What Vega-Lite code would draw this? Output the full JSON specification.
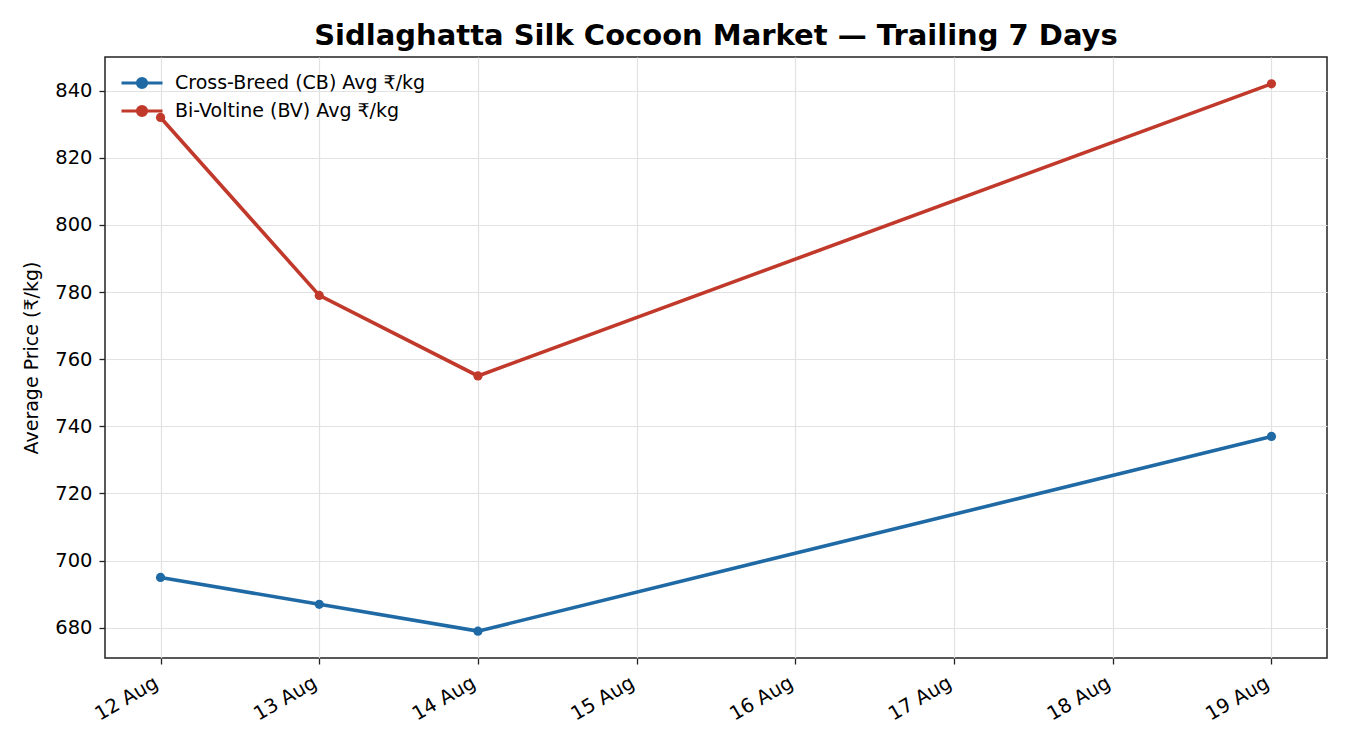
{
  "$schema": "https://vega.github.io/schema/vega-lite/v6.json",
  "width": 1222,
  "height": 601,
  "autosize": "none",
  "padding": {"left": 105, "top": 57, "right": 23, "bottom": 92},
  "background": "white",
  "title": {"text": "Sidlaghatta Silk Cocoon Market — Trailing 7 Days", "font": "DejaVu Sans", "fontSize": 29, "fontWeight": "bold", "color": "#000", "anchor": "middle", "offset": 6},
  "config": {
    "font": "DejaVu Sans",
    "view": {"stroke": "#222", "strokeWidth": 1.5},
    "axis": {"labelFont": "DejaVu Sans", "labelFontSize": 19.5, "labelColor": "#000", "tickColor": "#222", "tickSize": 6, "tickWidth": 1.3, "domain": false, "grid": true, "gridColor": "#e2e2e2", "gridWidth": 1.2, "titleFont": "DejaVu Sans", "titleFontSize": 19, "titleFontWeight": "normal", "titleColor": "#000", "labelPadding": 7}
  },
  "data": {"values": [
    {"date": "2024-08-12", "series": "Cross-Breed (CB) Avg ₹/kg", "price": 695},
    {"date": "2024-08-13", "series": "Cross-Breed (CB) Avg ₹/kg", "price": 687},
    {"date": "2024-08-14", "series": "Cross-Breed (CB) Avg ₹/kg", "price": 679},
    {"date": "2024-08-19", "series": "Cross-Breed (CB) Avg ₹/kg", "price": 737},
    {"date": "2024-08-12", "series": "Bi-Voltine (BV) Avg ₹/kg", "price": 832},
    {"date": "2024-08-13", "series": "Bi-Voltine (BV) Avg ₹/kg", "price": 779},
    {"date": "2024-08-14", "series": "Bi-Voltine (BV) Avg ₹/kg", "price": 755},
    {"date": "2024-08-19", "series": "Bi-Voltine (BV) Avg ₹/kg", "price": 842}
  ]},
  "encoding": {
    "x": {"field": "date", "type": "temporal",
      "scale": {"type": "utc", "domain": [{"year": 2024, "month": 8, "date": 11, "hours": 15, "minutes": 36, "utc": true}, {"year": 2024, "month": 8, "date": 19, "hours": 8, "minutes": 24, "utc": true}]},
      "axis": {"title": null, "format": "%d %b", "labelAngle": -30, "labelAlign": "right", "labelBaseline": "top", "labelPadding": 9, "labelOffset": -9,
        "values": [
          {"year": 2024, "month": 8, "date": 12, "utc": true},
          {"year": 2024, "month": 8, "date": 13, "utc": true},
          {"year": 2024, "month": 8, "date": 14, "utc": true},
          {"year": 2024, "month": 8, "date": 15, "utc": true},
          {"year": 2024, "month": 8, "date": 16, "utc": true},
          {"year": 2024, "month": 8, "date": 17, "utc": true},
          {"year": 2024, "month": 8, "date": 18, "utc": true},
          {"year": 2024, "month": 8, "date": 19, "utc": true}
        ]}},
    "y": {"field": "price", "type": "quantitative",
      "scale": {"domain": [671, 850], "nice": false, "zero": false},
      "axis": {"title": "Average Price (₹/kg)", "values": [680, 700, 720, 740, 760, 780, 800, 820, 840], "titlePadding": 13}},
    "color": {"field": "series", "type": "nominal",
      "scale": {"domain": ["Cross-Breed (CB) Avg ₹/kg", "Bi-Voltine (BV) Avg ₹/kg"], "range": ["#1f6aa5", "#c0392b"]},
      "legend": {"title": null, "orient": "none", "legendX": 25, "legendY": 14,
        "symbolType": "M-2,0H2M0.44,0A0.44,0.44,0,1,1,-0.44,0A0.44,0.44,0,1,1,0.44,0Z",
        "symbolSize": 420, "symbolStrokeWidth": 3.2, "labelFontSize": 19, "labelFont": "DejaVu Sans", "labelColor": "#000", "labelOffset": 21, "labelLimit": 500, "rowPadding": 5,
        "encode": {"symbols": {"update": {"fill": {"field": "value", "scale": "color"}, "fillOpacity": {"value": 1}, "opacity": {"value": 1}}}}}}
  },
  "layer": [
    {"mark": {"type": "line", "strokeWidth": 3.6}},
    {"mark": {"type": "circle", "size": 85, "opacity": 1}}
  ]
}
